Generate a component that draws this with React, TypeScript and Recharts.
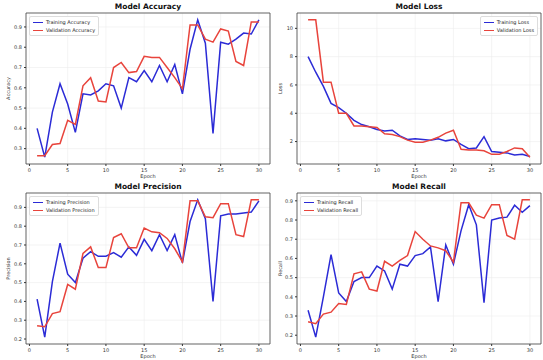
import React from "react";
import {
  CartesianGrid,
  Legend,
  Line,
  LineChart,
  ReferenceArea,
  XAxis,
  YAxis,
} from "recharts";

const epochs = [
  1, 2, 3, 4, 5, 6, 7, 8, 9, 10, 11, 12, 13, 14, 15, 16, 17, 18, 19, 20, 21,
  22, 23, 24, 25, 26, 27, 28, 29, 30,
];

const trainAccuracy = [
  0.4, 0.258, 0.48, 0.62, 0.52, 0.38, 0.57, 0.565, 0.585, 0.62, 0.61, 0.5,
  0.65, 0.63, 0.685, 0.63, 0.71, 0.63, 0.715, 0.57, 0.79, 0.935, 0.82, 0.375,
  0.825, 0.815, 0.84, 0.87, 0.865, 0.935,
];
const valAccuracy = [
  0.265, 0.265, 0.32, 0.325, 0.44, 0.42, 0.61, 0.65, 0.535, 0.53, 0.7, 0.725,
  0.675, 0.68, 0.755, 0.75, 0.75, 0.7, 0.65, 0.595, 0.91, 0.91, 0.84, 0.825,
  0.89, 0.88, 0.73, 0.71, 0.925, 0.925,
];

const trainLoss = [
  8.0, 6.9, 5.9, 4.7, 4.4, 4.0, 3.5, 3.2, 3.05, 2.85, 2.75, 2.8, 2.4, 2.15,
  2.2, 2.15, 2.1, 2.2, 2.05, 2.15, 1.8, 1.5, 1.55, 2.35, 1.3, 1.25, 1.2, 1.05,
  1.1, 0.95,
];
const valLoss = [
  10.6, 10.6, 6.2, 6.2, 4.0, 4.0, 3.1, 3.1, 3.05, 3.0, 2.55, 2.5, 2.35, 2.1,
  1.95, 1.95, 2.1, 2.3, 2.6, 2.8, 1.45, 1.4, 1.4, 1.35, 1.1, 1.1, 1.3, 1.55,
  1.5, 0.9,
];

const trainPrecision = [
  0.412, 0.21, 0.505, 0.71, 0.545, 0.5, 0.63, 0.665, 0.64, 0.64, 0.66, 0.635,
  0.69, 0.645, 0.73, 0.67, 0.755, 0.67, 0.755, 0.605, 0.825, 0.94, 0.84, 0.4,
  0.855, 0.865, 0.865, 0.87, 0.875, 0.935,
];
const valPrecision = [
  0.27, 0.265, 0.335, 0.345, 0.49, 0.465, 0.655, 0.69, 0.58, 0.58, 0.74, 0.76,
  0.685, 0.685, 0.79, 0.77, 0.765, 0.735, 0.68, 0.61, 0.935, 0.935, 0.85,
  0.845, 0.92, 0.92, 0.755, 0.745, 0.94, 0.94,
];

const trainRecall = [
  0.33, 0.19, 0.4, 0.62, 0.42, 0.375, 0.48, 0.5, 0.5, 0.56, 0.535, 0.44, 0.57,
  0.56, 0.615, 0.625, 0.66, 0.375, 0.67, 0.57, 0.745, 0.88, 0.775, 0.37, 0.8,
  0.81, 0.815, 0.877, 0.84, 0.875,
];
const valRecall = [
  0.27, 0.26, 0.31, 0.32, 0.365, 0.36, 0.52, 0.53, 0.44, 0.43, 0.585, 0.56,
  0.59, 0.615, 0.74, 0.7, 0.665, 0.655, 0.64, 0.58, 0.89, 0.89, 0.825, 0.81,
  0.88, 0.88, 0.72, 0.7, 0.905, 0.905,
];

const epochTicks = [0, 5, 10, 15, 20, 25, 30];
const accuracyTicks = [0.3, 0.4, 0.5, 0.6, 0.7, 0.8, 0.9];
const lossTicks = [2, 4, 6, 8, 10];
const precisionTicks = [0.2, 0.3, 0.4, 0.5, 0.6, 0.7, 0.8, 0.9];
const recallTicks = [0.2, 0.3, 0.4, 0.5, 0.6, 0.7, 0.8, 0.9];

const FONT = "'DejaVu Sans', sans-serif";
const BLUE = "#2b2bd6";
const RED = "#e8443c";
const X_DOMAIN = [-0.45, 31.45];

// matplotlib-like 5% padding around the data
const padDomain = (a: number[], b: number[]) => {
  const lo = Math.min(...a, ...b);
  const hi = Math.max(...a, ...b);
  const pad = (hi - lo) * 0.05;
  return [lo - pad, hi + pad];
};

const MiniLegend = ({ names, side }: any) => (
  <div
    style={{
      position: "absolute",
      top: 3,
      [side]: 3,
      border: "1px solid #dddddd",
      borderRadius: 2,
      background: "rgba(255,255,255,0.85)",
      padding: "1px 3px",
      fontFamily: FONT,
      fontSize: 5,
      lineHeight: "8px",
      color: "#222",
    }}
  >
    {names.map((n: string, i: number) => (
      <div key={n} style={{ display: "flex", alignItems: "center" }}>
        <span
          style={{
            display: "inline-block",
            width: 10,
            height: 0,
            borderTop: `1.5px solid ${i === 0 ? BLUE : RED}`,
            marginRight: 3,
          }}
        />
        {n}
      </div>
    ))}
  </div>
);

const Panel = ({
  title,
  yLabel,
  train,
  val,
  names,
  ticks,
  legendSide,
  left,
  top,
  width,
  yWidth,
}: any) => {
  const data = epochs.map((e, i) => ({ epoch: e, train: train[i], val: val[i] }));
  const yDomain = padDomain(train, val);
  const height = 180;
  const plotLeft = yWidth;
  const plotWidth = width - yWidth - 2;
  return (
    <div style={{ position: "absolute", left, top, width, height }}>
      <div
        style={{
          position: "absolute",
          left: plotLeft,
          width: plotWidth,
          top: 2,
          textAlign: "center",
          fontFamily: FONT,
          fontWeight: "bold",
          fontSize: 7.5,
          lineHeight: "9px",
          color: "#111",
        }}
      >
        {title}
      </div>
      <LineChart
        width={width}
        height={height}
        data={data}
        margin={{ top: 13, right: 2, left: 0, bottom: 0 }}
      >
        <CartesianGrid stroke="#ececec" strokeWidth={0.6} />
        <XAxis
          dataKey="epoch"
          type="number"
          domain={X_DOMAIN}
          ticks={epochTicks}
          allowDataOverflow
          height={16}
          tickSize={2}
          tick={{ fontSize: 5, fill: "#333", fontFamily: FONT }}
          tickLine={{ stroke: "#333" }}
          axisLine={false}
          label={{
            value: "Epoch",
            position: "insideBottom",
            offset: 2,
            fontSize: 5,
            fill: "#333",
            fontFamily: FONT,
          }}
        />
        <YAxis
          type="number"
          domain={yDomain}
          ticks={ticks}
          allowDataOverflow
          width={yWidth}
          tickSize={2}
          tick={{ fontSize: 5, fill: "#333", fontFamily: FONT }}
          tickLine={{ stroke: "#333" }}
          axisLine={false}
          tickFormatter={(v: number) => (v < 1 ? v.toFixed(1) : String(v))}
          label={{
            value: yLabel,
            angle: -90,
            position: "insideLeft",
            offset: 8,
            fontSize: 5,
            fill: "#333",
            fontFamily: FONT,
            style: { textAnchor: "middle" },
          }}
        />
        <ReferenceArea
          x1={X_DOMAIN[0]}
          x2={X_DOMAIN[1]}
          y1={yDomain[0]}
          y2={yDomain[1]}
          fill="none"
          stroke="#444"
          strokeWidth={0.8}
        />
        <Line
          type="linear"
          dataKey="train"
          stroke={BLUE}
          strokeWidth={1.5}
          dot={false}
          isAnimationActive={false}
        />
        <Line
          type="linear"
          dataKey="val"
          stroke={RED}
          strokeWidth={1.5}
          dot={false}
          isAnimationActive={false}
        />
        <Legend
          content={() => <MiniLegend names={names} side={legendSide} />}
          wrapperStyle={{
            position: "absolute",
            top: 13,
            left: plotLeft,
            width: plotWidth,
            height: 0,
          }}
        />
      </LineChart>
    </div>
  );
};

export default function App() {
  return (
    <div
      style={{
        position: "absolute",
        left: 0,
        top: 0,
        width: 543,
        height: 360,
        background: "#fff",
        overflow: "hidden",
      }}
    >
      <Panel
        title="Model Accuracy"
        yLabel="Accuracy"
        train={trainAccuracy}
        val={valAccuracy}
        names={["Training Accuracy", "Validation Accuracy"]}
        ticks={accuracyTicks}
        legendSide="left"
        left={0}
        top={0}
        width={272}
        yWidth={26}
      />
      <Panel
        title="Model Loss"
        yLabel="Loss"
        train={trainLoss}
        val={valLoss}
        names={["Training Loss", "Validation Loss"]}
        ticks={lossTicks}
        legendSide="right"
        left={272}
        top={0}
        width={271}
        yWidth={25}
      />
      <Panel
        title="Model Precision"
        yLabel="Precision"
        train={trainPrecision}
        val={valPrecision}
        names={["Training Precision", "Validation Precision"]}
        ticks={precisionTicks}
        legendSide="left"
        left={0}
        top={180}
        width={272}
        yWidth={26}
      />
      <Panel
        title="Model Recall"
        yLabel="Recall"
        train={trainRecall}
        val={valRecall}
        names={["Training Recall", "Validation Recall"]}
        ticks={recallTicks}
        legendSide="left"
        left={272}
        top={180}
        width={271}
        yWidth={25}
      />
    </div>
  );
}
